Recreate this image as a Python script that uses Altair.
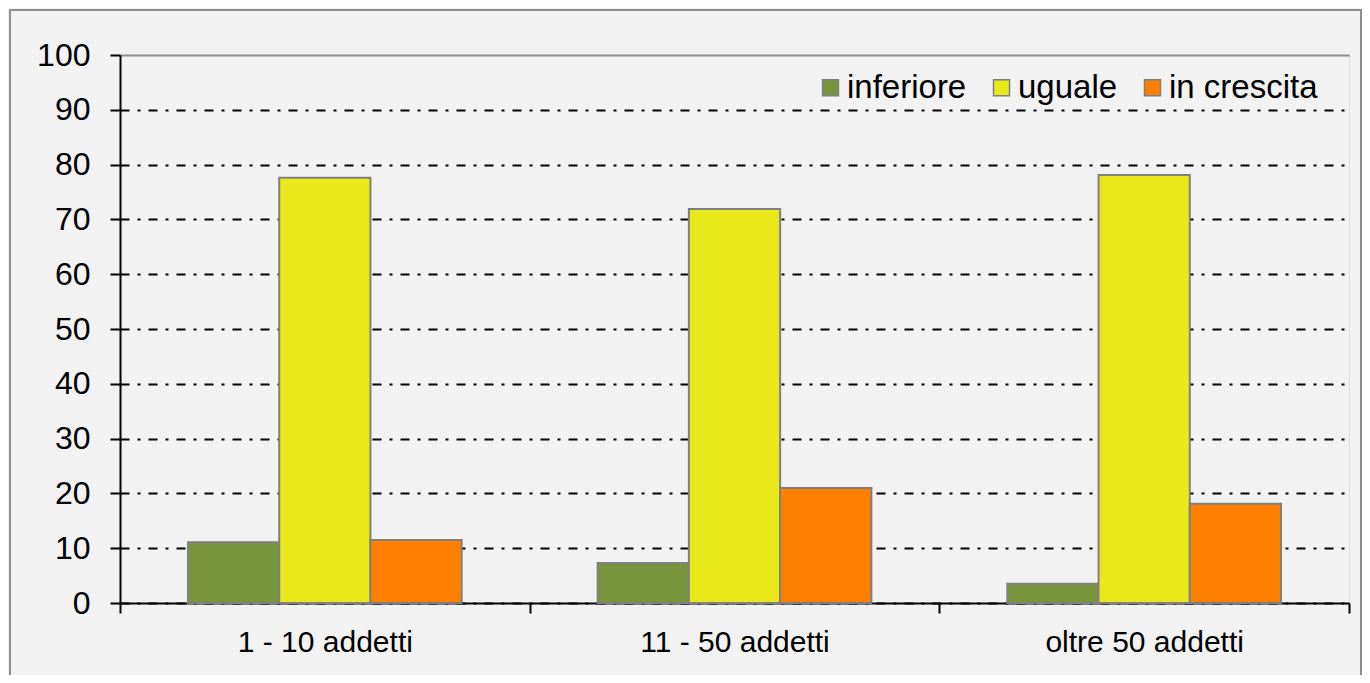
import altair as alt
import pandas as pd

categories = ["1 - 10 addetti", "11 - 50 addetti", "oltre 50 addetti"]
series = ["inferiore", "uguale", "in crescita"]
inferiore = [11.1, 7.3, 3.5]
uguale = [77.6, 71.9, 78.1]
in_crescita = [11.5, 21.0, 18.1]
colors = ["#77933C", "#E8E81A", "#FF8000"]
y_ticks = list(range(0, 101, 10))

rows = []
for i, c in enumerate(categories):
    for s, vals in zip(series, [inferiore, uguale, in_crescita]):
        rows.append({"categoria": c, "serie": s, "valore": vals[i]})
df = pd.DataFrame(rows)

W, H = 1229, 548
FONT = "Liberation Sans"

bars = alt.Chart(df).mark_bar(stroke="#808080", strokeWidth=2).encode(
    x=alt.X(
        "categoria:N", sort=categories,
        scale=alt.Scale(paddingInner=0, paddingOuter=0),
        axis=alt.Axis(title=None, labelAngle=0, tickBand="extent", grid=False,
                      domainColor="black", domainWidth=2, tickColor="black",
                      tickWidth=2, tickSize=10, labelFontSize=30, labelPadding=14,
                      labelLimit=0, labelColor="black", labelFont=FONT),
    ),
    xOffset=alt.XOffset("serie:N", sort=series,
                        scale=alt.Scale(paddingInner=0, paddingOuter=0.745)),
    y=alt.Y(
        "valore:Q", scale=alt.Scale(domain=[0, 100]),
        axis=alt.Axis(title=None, values=y_ticks, grid=True,
                      gridColor=alt.condition("datum.value === 100", alt.value("#8c8c8c"), alt.value("black")),
                      gridDash=alt.condition("datum.value === 100", alt.value([]), alt.value([9, 8, 3, 8])),
                      gridWidth=2, domainColor="black", domainWidth=2,
                      tickColor="black", tickWidth=2, tickSize=10,
                      labelFontSize=32, labelPadding=20, labelColor="black",
                      labelFont=FONT),
    ),
    color=alt.Color(
        "serie:N", sort=series, scale=alt.Scale(domain=series, range=colors),
        legend=alt.Legend(title=None, orient="none", legendX=694, legendY=16,
                          direction="horizontal", columns=3, symbolType="square",
                          symbolSize=256, symbolStrokeColor="#808080",
                          symbolStrokeWidth=1.5, symbolOpacity=1,
                          labelFontSize=33, labelFont=FONT, labelColor="black",
                          labelLimit=0, columnPadding=18, labelOffset=0),
    ),
)

frame = alt.Chart(pd.DataFrame({"a": [0]})).mark_rect(
    fillOpacity=0, stroke="#8c8c8c", strokeWidth=2
).encode(
    x=alt.value(-110), x2=alt.value(W + 12), y=alt.value(-45), y2=alt.value(H + 200)
)

chart = alt.layer(bars, frame).properties(
    width=W, height=H,
    autosize=alt.AutoSizeParams(type="none"),
    padding={"left": 112, "top": 47, "right": 13, "bottom": 72},
    background="#f2f2f2",
).configure_view(stroke="#8c8c8c", strokeWidth=2).configure(font=FONT)

chart.save("out.html", embed_options={"renderer": "svg", "actions": False})
